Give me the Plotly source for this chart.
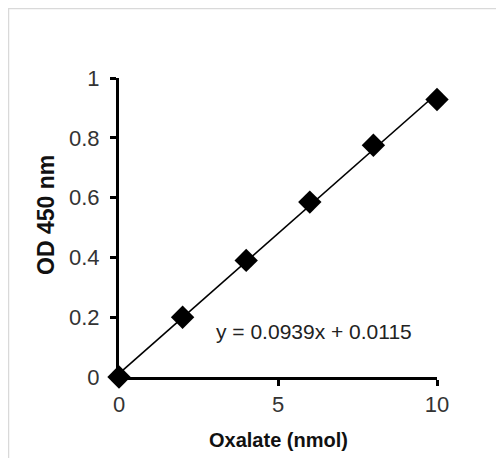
import numpy as np
import plotly.graph_objects as go

oxalate_nmol = [0, 2, 4, 6, 8, 10]
od450 = [0.0, 0.20, 0.39, 0.585, 0.775, 0.928]
x_ticks = [0, 5, 10]
y_ticks = [0, 0.2, 0.4, 0.6, 0.8, 1]
y_tick_labels = ["0", "0.2", "0.4", "0.6", "0.8", "1"]
equation_text = "y = 0.0939x + 0.0115"
x_title = "Oxalate (nmol)"
y_title = "OD 450 nm"

# page has an 8px body margin; figure is sized/positioned to compensate
OFF = 8
W, H = 488, 450
L, R, T, B = 111, 59, 70, 81
pw, ph = W - L - R, H - T - B

def px2paper_x(page_px):
    return (page_px - OFF - L) / pw

def px2paper_y(page_py):
    return (H - B - (page_py - OFF)) / ph

slope, intercept = np.polyfit(oxalate_nmol, od450, 1)
fit_x = [min(oxalate_nmol), max(oxalate_nmol)]
fit_y = [slope * v + intercept for v in fit_x]

FONT = "Liberation Sans, Arial, sans-serif"

fig = go.Figure()
fig.add_trace(go.Scatter(x=fit_x, y=fit_y, mode="lines",
                         line=dict(color="black", width=1.6),
                         hoverinfo="skip", cliponaxis=False))
fig.add_trace(go.Scatter(x=oxalate_nmol, y=od450, mode="markers",
                         marker=dict(symbol="diamond", size=18, color="black"),
                         cliponaxis=False))

# light frame (top and left edges visible in the reference)
fig.add_shape(type="line", xref="paper", yref="paper",
              x0=px2paper_x(8), x1=px2paper_x(600), y0=px2paper_y(8.5), y1=px2paper_y(8.5),
              line=dict(color="#d9d9d9", width=1.5), layer="below")
fig.add_shape(type="line", xref="paper", yref="paper",
              x0=px2paper_x(8.5), x1=px2paper_x(8.5), y0=px2paper_y(8), y1=px2paper_y(600),
              line=dict(color="#d9d9d9", width=1.5), layer="below")

ann_common = dict(xref="paper", yref="paper", showarrow=False,
                  xanchor="center", yanchor="middle")

fig.add_annotation(text=equation_text, x=px2paper_x(314), y=px2paper_y(331),
                   font=dict(size=21, color="#222", family=FONT), **ann_common)
fig.add_annotation(text="<b>" + x_title + "</b>", x=px2paper_x(278), y=px2paper_y(440),
                   font=dict(size=20, color="#111", family=FONT), **ann_common)
fig.add_annotation(text="<b>" + y_title + "</b>", x=px2paper_x(46), y=px2paper_y(215),
                   textangle=-90,
                   font=dict(size=23, color="#111", family=FONT), **ann_common)

axis_common = dict(showgrid=False, zeroline=False, showline=True, linecolor="black",
                   linewidth=3, ticks="outside", ticklen=6, tickwidth=3, tickcolor="black",
                   tickfont=dict(size=22, color="#333", family=FONT))

fig.update_layout(
    width=W, height=H, margin=dict(l=L, r=R, t=T, b=B, autoexpand=False),
    paper_bgcolor="white", plot_bgcolor="white", showlegend=False,
    xaxis=dict(range=[0, 10], tickvals=x_ticks, **axis_common),
    yaxis=dict(range=[0, 1], tickvals=y_ticks, ticktext=y_tick_labels, ticklabelstandoff=6,
               **axis_common),
)

fig.write_html("out.html")
